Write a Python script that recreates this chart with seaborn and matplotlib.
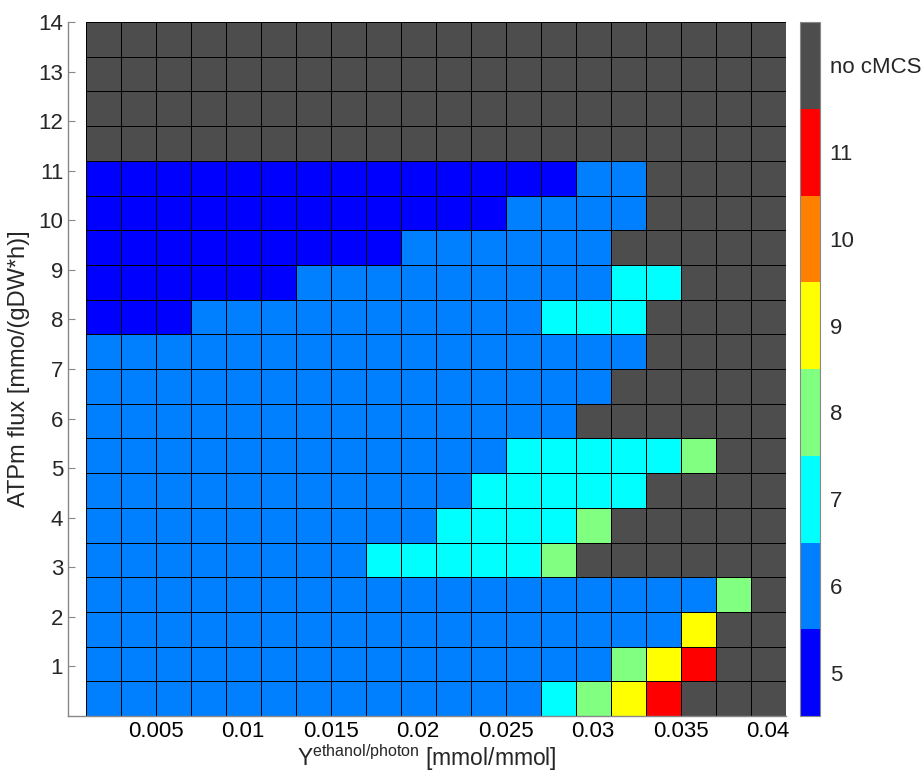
import numpy as np
import matplotlib.pyplot as plt
import seaborn as sns
from matplotlib.colors import ListedColormap

# grid geometry (yield columns, ATPm flux rows)
yield_start = 0.001   # left edge of first column
yield_step = 0.002
atp_step = 0.7

x_ticks = [0.005, 0.01, 0.015, 0.02, 0.025, 0.03, 0.035, 0.04]
x_ticklabels = ['0.005', '0.01', '0.015', '0.02', '0.025', '0.03', '0.035', '0.04']
y_ticks = [1, 2, 3, 4, 5, 6, 7, 8, 9, 10, 11, 12, 13, 14]

# colorbar classes: number of cMCS, 12 stands for "no cMCS"
levels = [5, 6, 7, 8, 9, 10, 11, 12]
level_labels = ['5', '6', '7', '8', '9', '10', '11', 'no cMCS']
level_colors = ['#0000ff', '#0080ff', '#00ffff', '#80ff80',
                '#ffff00', '#ff8000', '#ff0000', '#4d4d4d']

# rows listed from the top (ATPm 14) down to ATPm 0
mcs_counts = [
    [12, 12, 12, 12, 12, 12, 12, 12, 12, 12, 12, 12, 12, 12, 12, 12, 12, 12, 12, 12],
    [12, 12, 12, 12, 12, 12, 12, 12, 12, 12, 12, 12, 12, 12, 12, 12, 12, 12, 12, 12],
    [12, 12, 12, 12, 12, 12, 12, 12, 12, 12, 12, 12, 12, 12, 12, 12, 12, 12, 12, 12],
    [12, 12, 12, 12, 12, 12, 12, 12, 12, 12, 12, 12, 12, 12, 12, 12, 12, 12, 12, 12],
    [5, 5, 5, 5, 5, 5, 5, 5, 5, 5, 5, 5, 5, 5, 6, 6, 12, 12, 12, 12],
    [5, 5, 5, 5, 5, 5, 5, 5, 5, 5, 5, 5, 6, 6, 6, 6, 12, 12, 12, 12],
    [5, 5, 5, 5, 5, 5, 5, 5, 5, 6, 6, 6, 6, 6, 6, 12, 12, 12, 12, 12],
    [5, 5, 5, 5, 5, 5, 6, 6, 6, 6, 6, 6, 6, 6, 6, 7, 7, 12, 12, 12],
    [5, 5, 5, 6, 6, 6, 6, 6, 6, 6, 6, 6, 6, 7, 7, 7, 12, 12, 12, 12],
    [6, 6, 6, 6, 6, 6, 6, 6, 6, 6, 6, 6, 6, 6, 6, 6, 12, 12, 12, 12],
    [6, 6, 6, 6, 6, 6, 6, 6, 6, 6, 6, 6, 6, 6, 6, 12, 12, 12, 12, 12],
    [6, 6, 6, 6, 6, 6, 6, 6, 6, 6, 6, 6, 6, 6, 12, 12, 12, 12, 12, 12],
    [6, 6, 6, 6, 6, 6, 6, 6, 6, 6, 6, 6, 7, 7, 7, 7, 7, 8, 12, 12],
    [6, 6, 6, 6, 6, 6, 6, 6, 6, 6, 6, 7, 7, 7, 7, 7, 12, 12, 12, 12],
    [6, 6, 6, 6, 6, 6, 6, 6, 6, 6, 7, 7, 7, 7, 8, 12, 12, 12, 12, 12],
    [6, 6, 6, 6, 6, 6, 6, 6, 7, 7, 7, 7, 7, 8, 12, 12, 12, 12, 12, 12],
    [6, 6, 6, 6, 6, 6, 6, 6, 6, 6, 6, 6, 6, 6, 6, 6, 6, 6, 8, 12],
    [6, 6, 6, 6, 6, 6, 6, 6, 6, 6, 6, 6, 6, 6, 6, 6, 6, 9, 12, 12],
    [6, 6, 6, 6, 6, 6, 6, 6, 6, 6, 6, 6, 6, 6, 6, 8, 9, 11, 12, 12],
    [6, 6, 6, 6, 6, 6, 6, 6, 6, 6, 6, 6, 6, 7, 8, 9, 11, 12, 12, 12],
]

sns.set_theme(style='white')
plt.rcParams['font.family'] = ['Liberation Sans', 'DejaVu Sans']
plt.rcParams['mathtext.default'] = 'regular'

data = np.array(mcs_counts)
n_rows, n_cols = data.shape

fig = plt.figure(figsize=(9.23, 7.72), dpi=100)
ax = fig.add_axes([0.0737, 0.0725, 0.7775, 0.899])
cax = fig.add_axes([0.8667, 0.0725, 0.0217, 0.899])

cmap = ListedColormap(level_colors)
sns.heatmap(data, ax=ax, cbar_ax=cax, cmap=cmap,
            vmin=levels[0] - 0.5, vmax=levels[-1] + 0.5,
            linewidths=0.7, linecolor='black',
            xticklabels=False, yticklabels=False)


# map data values to heatmap cell coordinates
def x_pos(v):
    return (v - yield_start) / yield_step


def y_pos(v):
    return n_rows - v / atp_step


ax.set_xlim(x_pos(0.0), n_cols)
ax.set_ylim(n_rows, 0)
ax.set_xticks([x_pos(v) for v in x_ticks])
ax.set_xticklabels(x_ticklabels, fontsize=16)
ax.set_yticks([y_pos(v) for v in y_ticks])
ax.set_yticklabels([str(v) for v in y_ticks], fontsize=16, rotation=0)

ax.tick_params(axis='x', length=0, pad=3.5, colors='black')
ax.tick_params(axis='y', direction='in', length=5, width=0.8, color='#888888', pad=3.5)
ax.tick_params(axis='y', left=True)

for side in ['left', 'bottom']:
    ax.spines[side].set_visible(True)
    ax.spines[side].set_color('#888888')
    ax.spines[side].set_linewidth(1.0)
for side in ['top', 'right']:
    ax.spines[side].set_visible(False)

ax.set_xlabel(r'Y$^{\mathregular{ethanol/photon}}$ [mmol/mmol]', fontsize=16.5, labelpad=0)
ax.set_ylabel('ATPm flux [mmo/(gDW*h)]', fontsize=17, labelpad=6)

cbar = ax.collections[0].colorbar
cbar.set_ticks(levels)
cbar.set_ticklabels(level_labels)
cbar.ax.tick_params(length=0, pad=7, labelsize=16)
cbar.outline.set_visible(True)
cbar.outline.set_edgecolor('#888888')
cbar.outline.set_linewidth(0.8)

fig.savefig('out.png', dpi=100)
